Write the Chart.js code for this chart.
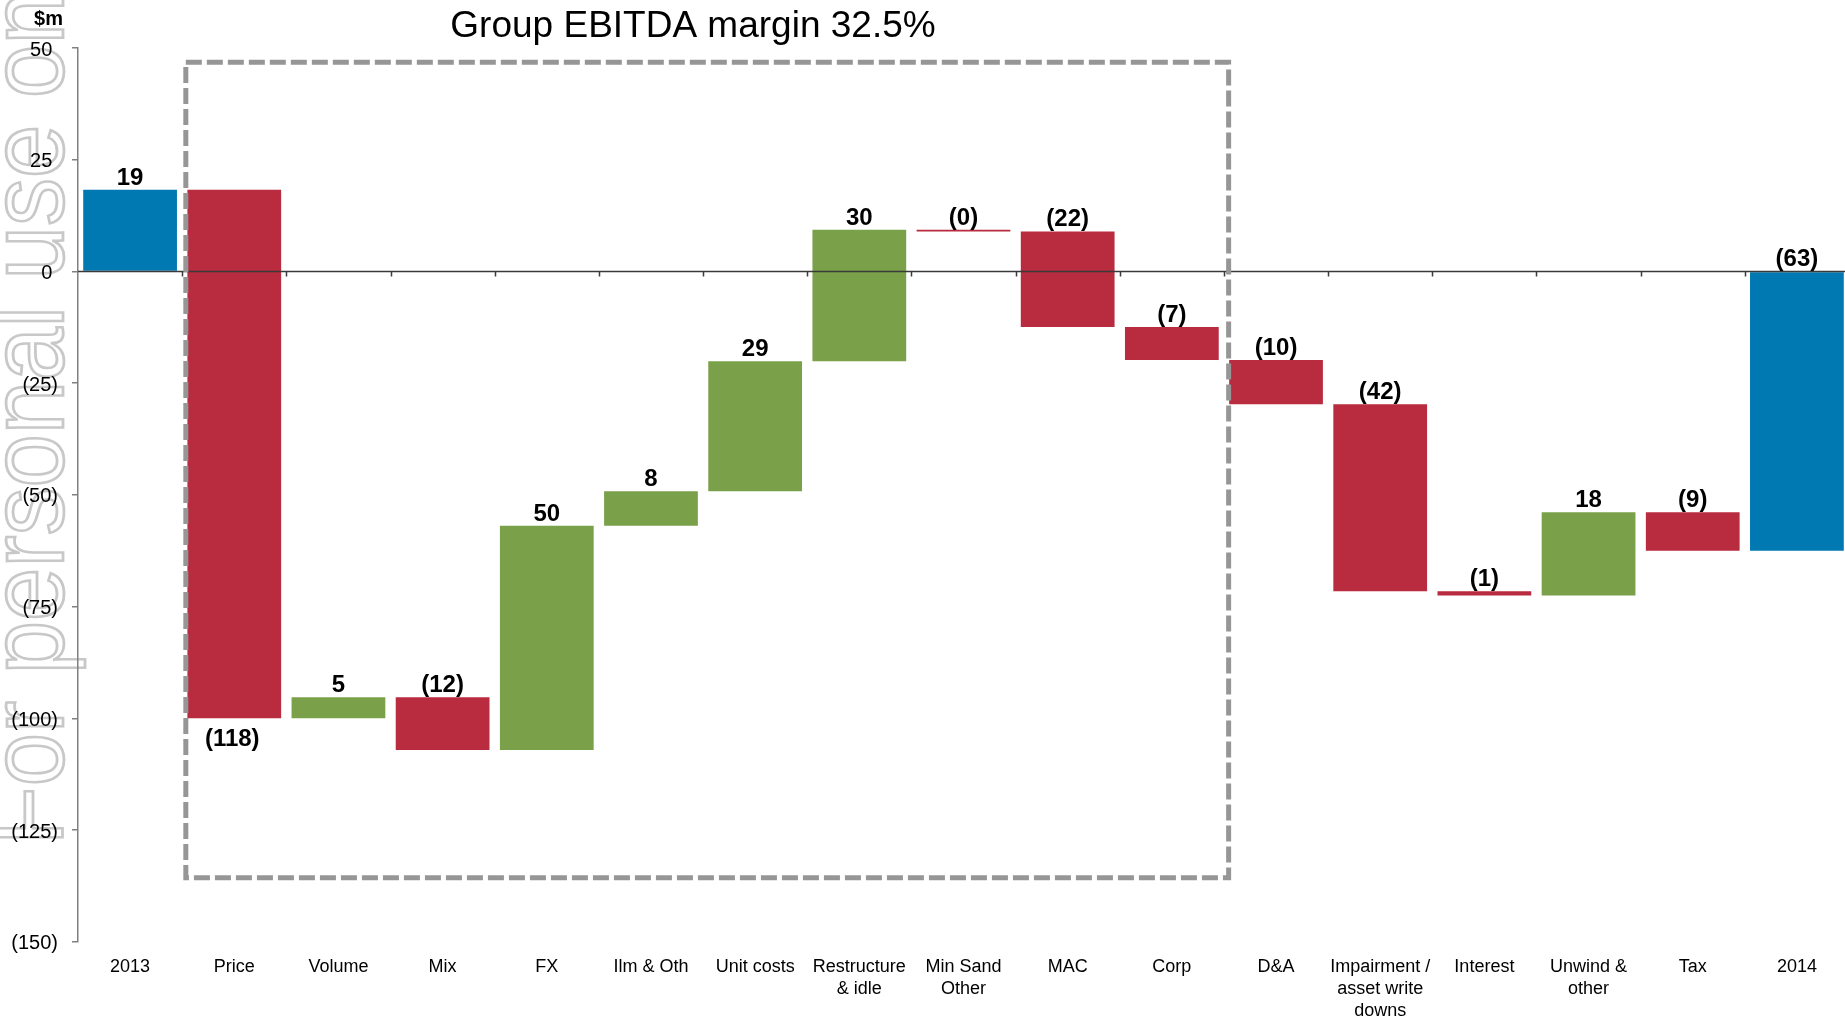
<!DOCTYPE html>
<html><head><meta charset="utf-8">
<script src="https://cdn.jsdelivr.net/npm/chart.js@4/dist/chart.umd.min.js"></script>
<style>
html,body{margin:0;padding:0;overflow:hidden;background:#fff;width:1845px;height:1017px}
#wrap{position:relative;width:1849px;height:1017px}
canvas{display:block}
</style></head><body>
<div id="wrap"><canvas id="c" width="1849" height="1017"></canvas></div>
<script>
// ---- data ----
const categories = [['2013'],['Price'],['Volume'],['Mix'],['FX'],['Ilm & Oth'],['Unit costs'],['Restructure','& idle'],['Min Sand','Other'],['MAC'],['Corp'],['D&A'],['Impairment /','asset write','downs'],['Interest'],['Unwind &','other'],['Tax'],['2014']];
const openingValue = 18.3;
const changes = [-118.3, 4.7, -11.8, 50.2, 7.7, 29.1, 29.43, -0.38, -21.4, -7.35, -9.9, -41.9, -0.9, 18.6, -8.6];
const valueLabels = ['19','(118)','5','(12)','50','8','29','30','(0)','(22)','(7)','(10)','(42)','(1)','18','(9)','(63)'];
const labelsBelow = ['Price'];
const yTickValues = [-150,-125,-100,-75,-50,-25,0,25,50];
const titleText = 'Group EBITDA margin 32.5%';
const unitLabel = '$m';
const watermarkText = 'For personal use only';
const boxRange = {fromIndex: 0.535, toIndex: 10.545, top: 46.8, bottom: -135.7};

// ---- derived ----
const ranges = [[0, openingValue]];
let running = openingValue;
changes.forEach(d => { ranges.push([running, running + d]); running += d; });
ranges.push([0, running]);

const BLUE = '#0079B2', GREEN = '#7BA04A', RED = '#B92B3E';
const colors = ranges.map((r, i) => (i === 0 || i === ranges.length - 1) ? BLUE : (r[1] >= r[0] ? GREEN : RED));

const FONT = '"Liberation Sans", Arial, Helvetica, sans-serif';
const fmt = v => v < 0 ? '(' + (-v) + ')' : v + '\u2009\u200A';

const decor = {
  id: 'decor',
  beforeDraw(chart) {
    const ctx = chart.ctx;
    ctx.save();
    ctx.translate(63, 845);
    ctx.rotate(-Math.PI / 2);
    ctx.scale(1, 1.1);
    ctx.font = '96px ' + FONT;
    ctx.strokeStyle = '#c8c8c8';
    ctx.lineWidth = 2.5;
    ctx.textAlign = 'left';
    ctx.textBaseline = 'alphabetic';
    ctx.strokeText(watermarkText, 0, 0);
    ctx.restore();
  },
  afterDatasetsDraw(chart) {
    const {ctx, chartArea} = chart;
    const x = chart.scales.x, y = chart.scales.y;
    const y0 = y.getPixelForValue(0);
    ctx.save();
    // zero line with ticks at category boundaries
    ctx.strokeStyle = '#3a3a3a';
    ctx.lineWidth = 1.5;
    ctx.beginPath();
    ctx.moveTo(chartArea.left, y0);
    ctx.lineTo(chartArea.right, y0);
    for (let i = 1; i < categories.length; i++) {
      const px = Math.round(x.getPixelForValue(i - 0.5)) + 0.5;
      ctx.moveTo(px, y0);
      ctx.lineTo(px, y0 + 5);
    }
    ctx.stroke();

    // dashed box
    const bx1 = x.getPixelForValue(boxRange.fromIndex);
    const bx2 = x.getPixelForValue(boxRange.toIndex);
    const by1 = y.getPixelForValue(boxRange.top);
    const by2 = y.getPixelForValue(boxRange.bottom);
    ctx.strokeStyle = '#969696';
    ctx.lineWidth = 5;
    ctx.setLineDash([16, 5]);
    ctx.strokeRect(bx1, by1, bx2 - bx1, by2 - by1);
    ctx.setLineDash([]);

    // value labels
    ctx.fillStyle = '#000';
    ctx.font = 'bold 24px ' + FONT;
    ctx.textAlign = 'center';
    ctx.textBaseline = 'alphabetic';
    const meta = chart.getDatasetMeta(0);
    meta.data.forEach((bar, i) => {
      const r = ranges[i];
      const name = categories[i].join(' ');
      if (labelsBelow.includes(name)) {
        const py = y.getPixelForValue(Math.min(r[0], r[1]));
        ctx.fillText(valueLabels[i], bar.x - 2, py + 28);
      } else {
        const py = y.getPixelForValue(Math.max(r[0], r[1]));
        ctx.fillText(valueLabels[i], bar.x, py - 5);
      }
    });

    // title and unit
    ctx.font = '37px ' + FONT;
    ctx.textAlign = 'center';
    ctx.fillText(titleText, 693, 37);
    ctx.font = 'bold 20px ' + FONT;
    ctx.textAlign = 'right';
    ctx.fillText(unitLabel, 63, 25);
    ctx.restore();
  }
};

new Chart(document.getElementById('c'), {
  type: 'bar',
  data: {
    labels: categories,
    datasets: [{
      data: ranges,
      backgroundColor: colors,
      borderWidth: 0,
      categoryPercentage: 1,
      barPercentage: 0.9
    }]
  },
  options: {
    responsive: false,
    animation: false,
    devicePixelRatio: 1,
    layout: {padding: {top: 48, left: 0, right: 0, bottom: 0}},
    plugins: {legend: {display: false}, tooltip: {enabled: false}, title: {display: false}},
    scales: {
      x: {
        type: 'category',
        offset: true,
        grid: {display: false, drawTicks: false},
        border: {display: false},
        ticks: {color: '#000', font: {family: FONT, size: 18, lineHeight: 1.2}, padding: 15, maxRotation: 0, minRotation: 0, autoSkip: false},
        afterFit(s) { s.height = 75.3; }
      },
      y: {
        min: -150, max: 50,
        afterBuildTicks(s) { s.ticks = yTickValues.map(v => ({value: v})); },
        grid: {drawOnChartArea: false, drawTicks: true, tickLength: 6, color: '#808080', lineWidth: 1.5},
        border: {display: true, color: '#808080', width: 1.5},
        ticks: {color: '#000', font: {family: FONT, size: 20}, padding: 14, labelOffset: 2, callback: v => fmt(v)},
        afterFit(s) { s.width = 78; }
      }
    }
  },
  plugins: [decor]
});
</script>
</body></html>
